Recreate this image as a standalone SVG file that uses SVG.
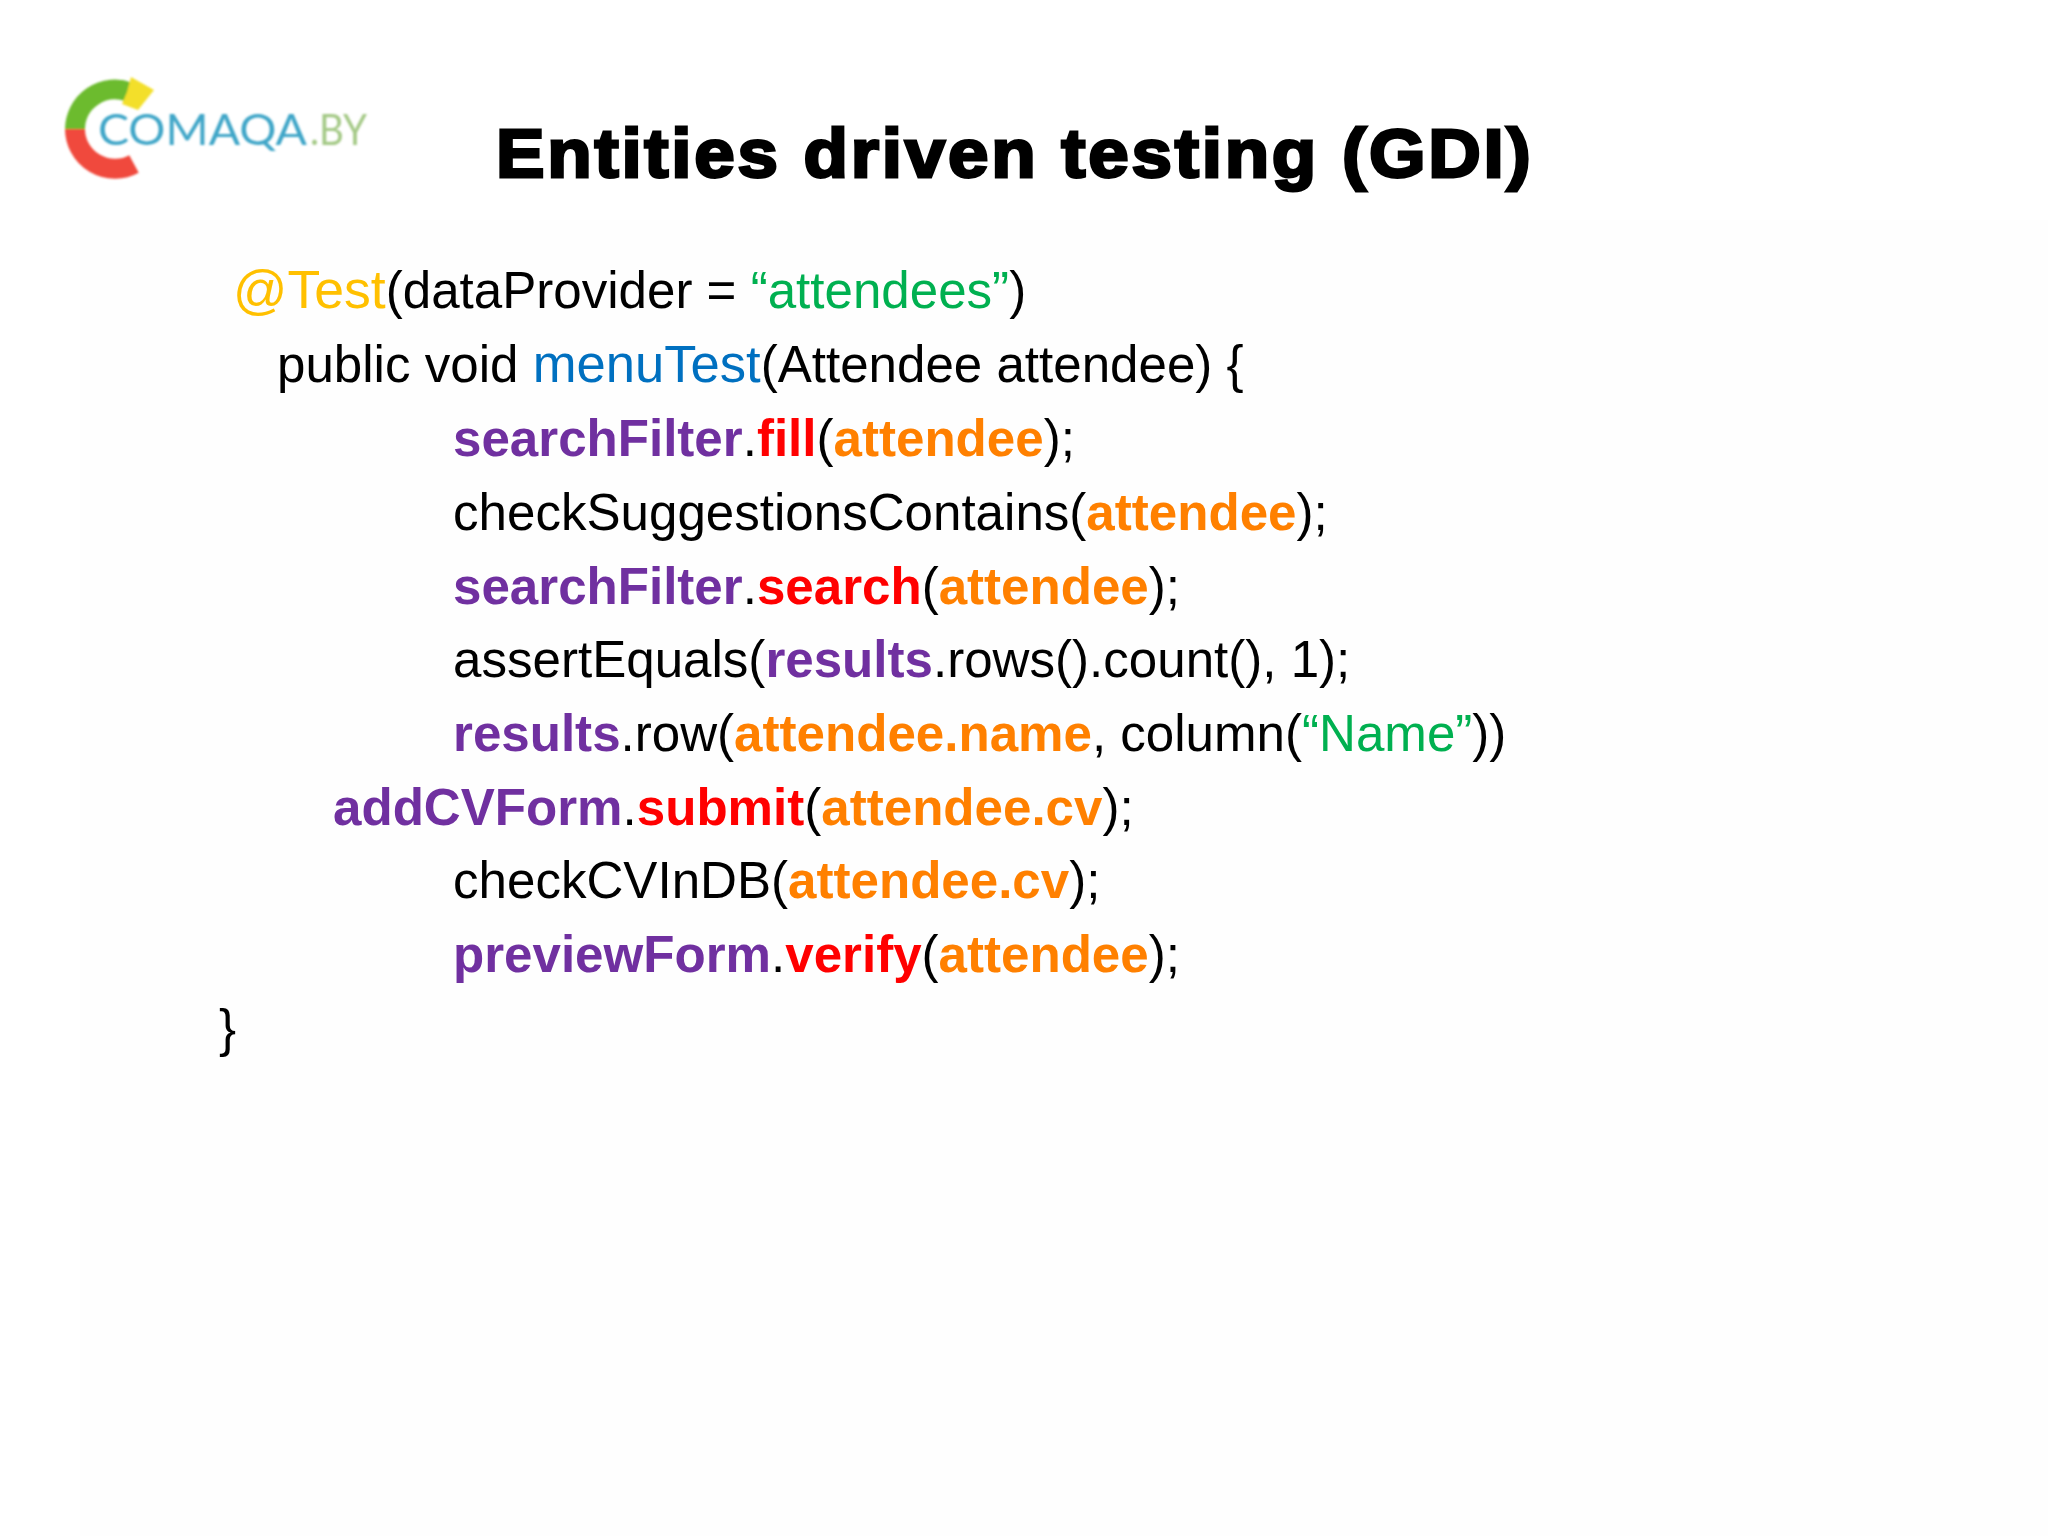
<svg xmlns="http://www.w3.org/2000/svg" width="2048" height="1536" viewBox="0 0 2048 1536">
<style>
.c{font-family:"Liberation Sans",Arial,sans-serif;font-size:51.1px;fill:#000}
.b{font-weight:700}
.w{font-size:52.6px}
.v{font-size:53.6px}
.p{fill:#7030a0}.r{fill:#ff0000}.o{fill:#ff8000}.g{fill:#00b050}.y{fill:#ffc000}.u{fill:#0070c0}
</style>
<defs><filter id="soft" filterUnits="userSpaceOnUse" x="40" y="50" width="360" height="160"><feGaussianBlur stdDeviation="0.8"/></filter></defs>
<rect width="2048" height="1536" fill="#fff"/>
<rect x="80" y="220" width="1968" height="1316" fill="#fefefe"/>
<g id="logo" filter="url(#soft)">
<path d="M75 129A40 40 0 0 1 129 92" fill="none" stroke="#6cbb2e" stroke-width="20"/>
<path d="M75 129A40 40 0 0 0 134 164" fill="none" stroke="#f04a3c" stroke-width="20"/>
<polygon points="131,77 154,90 138,110 122,104 127,92" fill="#f3df2a"/>
<text x="98" y="145" font-family="Lato,sans-serif" font-weight="400" font-size="42" fill="#3fa6c8" textLength="209" lengthAdjust="spacingAndGlyphs">COMAQA</text>
<text x="310" y="145" font-family="Lato,sans-serif" font-weight="400" font-size="42" fill="#a4c986" textLength="57" lengthAdjust="spacingAndGlyphs">.BY</text>
</g>
<text id="title" transform="scale(1.07 1)" x="463.550" y="177" font-family="'Liberation Sans',Arial,sans-serif" font-weight="700" font-size="68" fill="#000" stroke="#000" stroke-width="2.800" textLength="967" lengthAdjust="spacing">Entities driven testing (GDI)</text>
<g id="code">
<text class="c" x="233" y="308"><tspan class="y v">@Test</tspan>(dataProvider = <tspan class="g">“attendees”</tspan>)</text>
<text class="c" x="277" y="382">public void <tspan class="u w">menuTest</tspan>(Attendee attendee) {</text>
<text class="c" x="453" y="456"><tspan class="b p">searchFilter</tspan>.<tspan class="b r">fill</tspan>(<tspan class="b o">attendee</tspan>);</text>
<text class="c" x="453" y="530">checkSuggestionsContains(<tspan class="b o">attendee</tspan>);</text>
<text class="c" x="453" y="604"><tspan class="b p">searchFilter</tspan>.<tspan class="b r">search</tspan>(<tspan class="b o">attendee</tspan>);</text>
<text class="c" x="453" y="677">assertEquals(<tspan class="b p">results</tspan>.rows().count(), 1);</text>
<text class="c" x="453" y="751"><tspan class="b p">results</tspan>.row(<tspan class="b o">attendee.name</tspan>, column(<tspan class="g">“Name”</tspan>))</text>
<text class="c" x="333" y="825"><tspan class="b p">addCVForm</tspan>.<tspan class="b r">submit</tspan>(<tspan class="b o">attendee.cv</tspan>);</text>
<text class="c" x="453" y="898">checkCVInDB(<tspan class="b o">attendee.cv</tspan>);</text>
<text class="c" x="453" y="972"><tspan class="b p">previewForm</tspan>.<tspan class="b r">verify</tspan>(<tspan class="b o">attendee</tspan>);</text>
<text class="c" x="219" y="1046">}</text>
</g>
</svg>
